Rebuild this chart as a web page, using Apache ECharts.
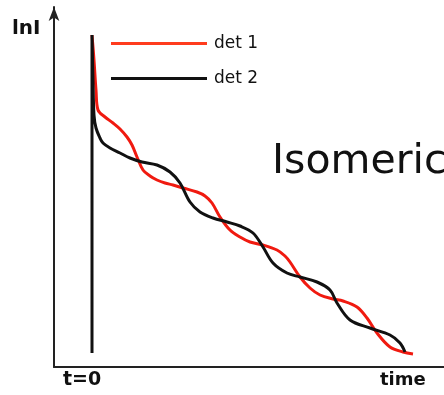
<!DOCTYPE html>
<html>
<head>
<meta charset="utf-8">
<script src="https://cdn.jsdelivr.net/npm/echarts@6/dist/echarts.min.js"></script>
<style>
    html, body {
        margin: 0;
        padding: 0;
        background: #fff;
    }
    #chart {
        width: 444px;
        height: 395px;
    }
</style>
</head>
<body>
<div id="chart"></div>
<script>
// series names
const seriesNames = ["det 1", "det 2"];

// det 1 : [time, lnI] (arbitrary units)
const det1 = [
    [0, 332], [2, 307], [4, 277], [6, 257], [13, 250], [21, 244], [28, 238],
    [35, 230], [40, 222], [45, 210], [51, 197], [58, 191], [65, 187], [73, 184],
    [81, 182], [91, 179], [105, 175], [113, 171], [120, 164], [128, 150],
    [138, 137], [148, 130], [158, 125], [171, 122], [185, 117], [193, 111],
    [198, 105], [208, 90], [218, 79], [228, 72], [241, 68], [251, 66],
    [265, 60], [275, 49], [285, 34], [298, 20], [311, 15], [321, 13],
];

// det 2 : starts with the vertical rise at t=0
const det2 = [
    [0, 14], [0, 332], [1, 287], [2, 252], [4, 239], [8, 229], [11, 224],
    [18, 219], [28, 214], [38, 209], [50, 205], [65, 202], [78, 195], [88, 184],
    [98, 165], [108, 155], [121, 149], [135, 145], [148, 141], [161, 134],
    [171, 120], [181, 104], [195, 94], [208, 90], [225, 85], [238, 77],
    [245, 64], [258, 47], [278, 39], [298, 32], [308, 24], [313, 15],
];

const xLabels = { zero: "t=0", axis: "time" };
const yLabel = "lnI";
const sideText = "Isomeric";

const font = "'DejaVu Sans', sans-serif";

let chart = echarts.init(document.getElementById("chart"));
chart.setOption({
    animation: false,
    color: ["#f01a10", "#111111"],
    grid: {
        left: 54,
        right: 0,
        top: 7,
        bottom: 28,
    },
    legend: {
        orient: "vertical",
        left: 106,
        top: 27,
        itemWidth: 96,
        itemHeight: 3,
        itemGap: 12,
        icon: "rect",
        data: [
            { name: seriesNames[0], itemStyle: { color: "#ff3c1e" } },
            { name: seriesNames[1], itemStyle: { color: "#111111" } },
        ],
        textStyle: {
            fontFamily: font,
            fontSize: 17,
            color: "#111",
            lineHeight: 17,
            padding: [0, 0, 6, 2],
        },
    },
    xAxis: {
        type: "value",
        min: -38,
        max: 352,
        axisLine: {
            show: true,
            onZero: false,
            lineStyle: { color: "#222", width: 2 },
        },
        axisTick: { show: false },
        axisLabel: { show: false },
        splitLine: { show: false },
    },
    yAxis: {
        type: "value",
        min: 0,
        max: 360,
        axisLine: {
            show: true,
            onZero: false,
            symbol: ["none", "arrow"],
            symbolSize: [8, 14],
            lineStyle: { color: "#222", width: 2 },
        },
        axisTick: { show: false },
        axisLabel: { show: false },
        splitLine: { show: false },
    },
    graphic: [
        {
            type: "text",
            left: 12,
            top: 19,
            style: {
                text: yLabel,
                font: "bold 20px " + font,
                fill: "#111",
            },
        },
        {
            type: "text",
            left: 63,
            top: 371,
            style: {
                text: xLabels.zero,
                font: "bold 19px " + font,
                fill: "#111",
            },
        },
        {
            type: "text",
            left: 380,
            top: 371,
            style: {
                text: xLabels.axis,
                font: "bold 18px " + font,
                fill: "#111",
            },
        },
        {
            type: "text",
            left: 272,
            top: 142,
            style: {
                text: sideText,
                font: "41px " + font,
                fill: "#111",
            },
        },
    ],
    series: [
        {
            name: seriesNames[0],
            type: "line",
            data: det1,
            smooth: 0.35,
            showSymbol: false,
            lineStyle: { width: 3, color: "#f01a10" },
            z: 3,
        },
        {
            name: seriesNames[1],
            type: "line",
            data: det2,
            smooth: 0.35,
            showSymbol: false,
            lineStyle: { width: 3, color: "#111111" },
            z: 4,
        },
    ],
});
</script>
</body>
</html>
